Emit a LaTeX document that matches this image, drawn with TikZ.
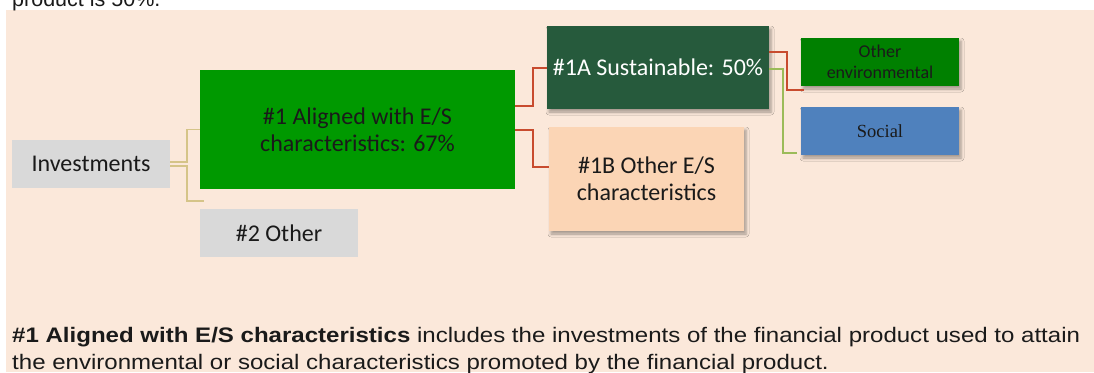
\documentclass[tikz,border=0pt]{standalone}
\usepackage{fontspec}
\setmainfont{Carlito}
\newfontfamily\arialf{Liberation Sans}
\newfontfamily\timesf{Liberation Serif}
\usetikzlibrary{shadows.blur}
\definecolor{peach}{HTML}{FBE8DA}
\definecolor{greyfill}{HTML}{D9D9D9}
\definecolor{brightgreen}{HTML}{009900}
\definecolor{darkgreen}{HTML}{265A3C}
\definecolor{lightorange}{HTML}{FBD5B5}
\definecolor{envgreen}{HTML}{008000}
\definecolor{socblue}{HTML}{4F81BD}
\definecolor{redline}{HTML}{C84B2E}
\definecolor{tanline}{HTML}{D5C488}
\definecolor{oliveline}{HTML}{9BBB59}
\definecolor{txt}{HTML}{1A1A1A}
\tikzset{
  box/.style={rectangle, inner sep=0pt, align=center, text=txt,
    font=\fontsize{24}{27}\selectfont},
  shbox/.style={box, blur shadow={shadow xshift=2pt, shadow yshift=-3pt,
    shadow blur radius=3pt, shadow opacity=35}},
  smallbox/.style={shbox, minimum width=158pt, minimum height=48pt},
  tanconn/.style={draw=tanline, line width=1.5pt},
  redconn/.style={draw=redline, line width=2pt},
  oliveconn/.style={draw=oliveline, line width=2pt},
  notetext/.style={anchor=base west, inner sep=0pt, text=txt,
    font=\arialf\fontsize{21}{25}\selectfont}
}
\begin{document}
\begin{tikzpicture}[x=1pt, y=-1pt]
\useasboundingbox (0,0) rectangle (1094,372);
\fill[white] (0,0) rectangle (1094,372);
\fill[peach] (6,10) rectangle (1094,372);
% clipped heading line above the panel
\node[notetext, font=\arialf\fontsize{21.5}{25}\selectfont] (head) at (12,6) {product is 50\%.};
% nodes
\node[box, fill=greyfill, minimum width=158pt, minimum height=48pt] (inv) at (91,164) {Investments};
\node[box, fill=brightgreen, minimum width=315pt, minimum height=119pt] (a1) at (357.5,129.5) {\#1 Aligned with E/S\\characteristics: 67\%};
\node[box, fill=greyfill, minimum width=158pt, minimum height=48pt] (o2) at (279,233) {\#2 Other};
\node[shbox, fill=darkgreen, text=white, minimum width=222pt, minimum height=83pt] (s1a) at (658,67.5) {\#1A Sustainable: 50\%};
\node[shbox, fill=lightorange, minimum width=195pt, minimum height=104pt] (s1b) at (646.5,179) {\#1B Other E/S\\characteristics};
\node[smallbox, fill=envgreen, font=\fontsize{18}{21}\selectfont] (oe) at (880,62) {Other\\environmental};
\node[smallbox, fill=socblue, font=\timesf\fontsize{18.5}{22}\selectfont] (soc) at (880,131) {Social};
% free ends
\coordinate (o2end) at ([xshift=4pt, yshift=8pt]o2.north west);
\coordinate (oeend) at ([xshift=3pt, yshift=-28pt]oe.west);
\coordinate (socend) at ([xshift=-4pt, yshift=-22pt]soc.west);
% connectors
\draw[tanconn] ([yshift=2pt]inv.east) -- ++(16.7,0) |- (a1.west);
\draw[tanconn] ([yshift=-2pt]inv.east) -- ++(16.7,0) |- (o2end);
\draw[redconn] ([yshift=24pt]a1.east) -- ++(18,0) |- (s1a.west);
\draw[redconn] (a1.east) -- ++(18,0) |- ([yshift=12pt]s1b.west);
\draw[redconn] ([yshift=15.5pt]s1a.east) -- ++(18,0) |- (oeend);
\draw[oliveconn] ([yshift=-1.5pt]s1a.east) -- ++(14,0) |- (socend);
% footnote text
\node[notetext] (note1) at (12,342) {\scalebox{1.145}[1]{\textbf{\#1 Aligned with E/S characteristics} includes the investments of the financial product used to attain}};
\node[notetext] (note2) at (12,369) {\scalebox{1.145}[1]{the environmental or social characteristics promoted by the financial product.}};
\end{tikzpicture}
\end{document}
